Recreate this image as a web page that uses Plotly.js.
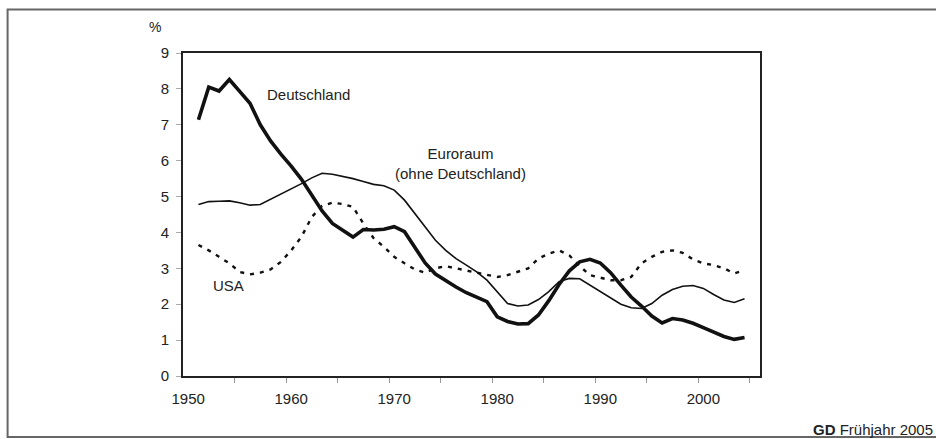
<!DOCTYPE html>
<html>
<head>
<meta charset="utf-8">
<script src="https://cdn.plot.ly/plotly-3.0.1.min.js"></script>
<style>
html,body{margin:0;padding:0;background:#fff;}
#chart{width:936px;height:439px;}
</style>
</head>
<body>
<div id="chart"></div>
<script>
// Years (categories 1951-2004)
var years = [];
for (var yr = 1951; yr <= 2004; yr++) years.push(yr);

var deutschland = [7.14, 8.05, 7.94, 8.26, 7.93, 7.60, 7.00, 6.55, 6.18, 5.85,
                   5.48, 5.05, 4.60, 4.25, 4.05, 3.87, 4.08, 4.07, 4.09, 4.16,
                   4.02, 3.60, 3.15, 2.84, 2.65, 2.48, 2.32, 2.19, 2.07, 1.65,
                   1.52, 1.45, 1.46, 1.70, 2.10, 2.55, 2.93, 3.18, 3.25, 3.15,
                   2.88, 2.53, 2.20, 1.95, 1.67, 1.48, 1.60, 1.56, 1.47, 1.35,
                   1.22, 1.10, 1.02, 1.07];

var euroraum = [4.78, 4.86, 4.87, 4.88, 4.83, 4.76, 4.78, 4.92, 5.06, 5.20,
                5.36, 5.52, 5.65, 5.62, 5.57, 5.50, 5.42, 5.34, 5.30, 5.18,
                4.90, 4.53, 4.16, 3.78, 3.50, 3.27, 3.09, 2.90, 2.67, 2.35,
                2.02, 1.95, 1.98, 2.13, 2.35, 2.63, 2.72, 2.71, 2.53, 2.35,
                2.16, 2.00, 1.90, 1.88, 2.02, 2.25, 2.41, 2.50, 2.52, 2.44,
                2.27, 2.12, 2.05, 2.15];

var usa = [3.65, 3.50, 3.32, 3.14, 2.90, 2.83, 2.88, 2.97, 3.18, 3.50,
           3.88, 4.43, 4.74, 4.83, 4.79, 4.71, 4.25, 3.84, 3.60, 3.32,
           3.14, 2.97, 2.88, 3.00, 3.06, 3.00, 2.95, 2.90, 2.84, 2.76,
           2.81, 2.90, 3.00, 3.27, 3.41, 3.50, 3.36, 3.06, 2.81, 2.74,
           2.67, 2.67, 2.76, 3.14, 3.32, 3.46, 3.50, 3.43, 3.25, 3.14,
           3.09, 3.00, 2.86, 2.95];

var xTickVals = [1950, 1960, 1970, 1980, 1990, 2000];
var xTickText = ['1950', '1960', '1970', '1980', '1990', '2000'];
var yTickVals = [0, 1, 2, 3, 4, 5, 6, 7, 8, 9];

var labelDeutschland = 'Deutschland';
var labelEuroraum = 'Euroraum<br>(ohne Deutschland)';
var labelUSA = 'USA';
var unitLabel = '%';
var sourceBold = 'GD';
var sourceText = ' Frühjahr 2005';

// category boundary ticks every 5 categories
var minorTicks = [];
for (var b = 1954.5; b <= 2005; b += 5) minorTicks.push(b);

var FONT = 'Liberation Sans, Arial, sans-serif';

var traces = [
  {x: years, y: usa, type: 'scatter', mode: 'lines', name: 'USA',
   line: {color: '#111', width: 2.4, dash: '4px,6px'}, hoverinfo: 'skip'},
  {x: years, y: euroraum, type: 'scatter', mode: 'lines', name: 'Euroraum',
   line: {color: '#111', width: 1.6}, hoverinfo: 'skip'},
  {x: years, y: deutschland, type: 'scatter', mode: 'lines', name: 'Deutschland',
   line: {color: '#111', width: 3.6}, hoverinfo: 'skip'}
];

var layout = {
  width: 936, height: 439,
  margin: {l: 183, r: 176, t: 53, b: 63},
  paper_bgcolor: '#ffffff', plot_bgcolor: '#ffffff',
  showlegend: false,
  font: {family: FONT, size: 15, color: '#222'},
  xaxis: {
    range: [1949.5, 2005.5], fixedrange: true,
    tickmode: 'array', tickvals: xTickVals, ticktext: xTickText,
    ticks: 'outside', ticklen: 0, ticklabelstandoff: 8,
    showgrid: false, zeroline: false,
    showline: true, linecolor: '#222', linewidth: 2, mirror: true,
    tickfont: {family: FONT, size: 15, color: '#222'},
    minor: {tickmode: 'array', tickvals: minorTicks, ticks: 'outside', ticklen: 5, tickcolor: '#999', tickwidth: 1, showgrid: false}
  },
  yaxis: {
    range: [0, 9], fixedrange: true,
    tickmode: 'array', tickvals: yTickVals,
    ticks: 'outside', ticklen: 5, tickcolor: '#aaa', tickwidth: 1,
    ticklabelstandoff: 4,
    showgrid: false, zeroline: false,
    showline: true, linecolor: '#222', linewidth: 2, mirror: true,
    tickfont: {family: FONT, size: 15, color: '#222'}
  },
  shapes: [
    {type: 'rect', xref: 'paper', yref: 'paper', x0: -0.304, x1: 1.32, y0: -0.189, y1: 1.135,
     line: {color: '#666', width: 2}, fillcolor: 'rgba(0,0,0,0)', layer: 'below'}
  ],
  annotations: [
    {x: 1961.65, y: 7.83, xref: 'x', yref: 'y', text: labelDeutschland, showarrow: false,
     font: {family: FONT, size: 15, color: '#222'}},
    {x: 1976.4, y: 5.92, xref: 'x', yref: 'y', text: labelEuroraum, showarrow: false,
     font: {family: FONT, size: 15, color: '#222'}},
    {x: 1953.9, y: 2.53, xref: 'x', yref: 'y', text: labelUSA, showarrow: false,
     font: {family: FONT, size: 15, color: '#222'}},
    {x: -0.048, y: 1.08, xref: 'paper', yref: 'paper', text: unitLabel, showarrow: false,
     xanchor: 'center', yanchor: 'middle',
     font: {family: FONT, size: 14, color: '#222'}},
    {x: 935, y: 429, xref: 'paper', yref: 'paper', text: '<b>' + sourceBold + '</b>' + sourceText,
     showarrow: false, xanchor: 'right', yanchor: 'middle',
     font: {family: FONT, size: 15, color: '#222'}}
  ]
};
// footer position in paper coords (pixel 935,429)
layout.annotations[4].x = (935 - 183) / 577;
layout.annotations[4].y = (376 - 429) / 323;

Plotly.newPlot('chart', traces, layout, {displayModeBar: false, staticPlot: true});
</script>
</body>
</html>
